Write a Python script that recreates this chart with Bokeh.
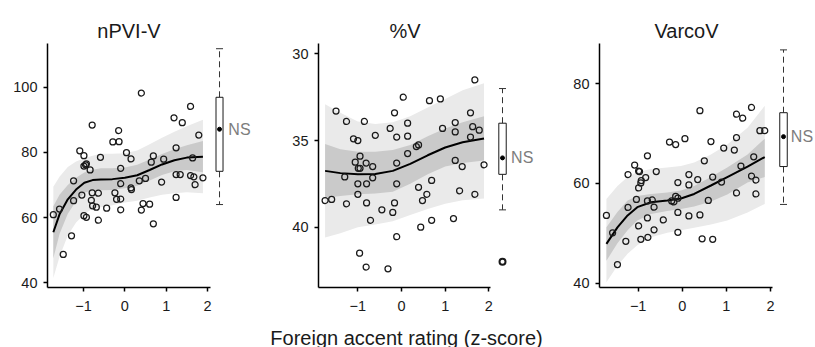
from bokeh.plotting import figure
from bokeh.layouts import row, column
from bokeh.models import Range1d, FixedTicker
from bokeh.core.properties import value
from bokeh.embed import file_html
from bokeh.resources import INLINE

FONT = "Liberation Sans"

# ---------------- data ----------------
titles = ["nPVI-V", "%V", "VarcoV"]
x_ticks = [-1, 0, 1, 2]
x_label = "Foreign accent rating (z-score)"

# nPVI-V
npvi_x = [-1.73, -1.58, -1.49, -1.29, -1.24, -1.24, -1.09, -1.04, -0.99, -0.99, -0.95, -0.93,
          -0.99, -0.93, -0.84, -0.79, -0.79, -0.81, -0.78, -0.69, -0.64, -0.64, -0.59, -0.44,
          -0.29, -0.24, -0.20, -0.15, -0.14, -0.10, -0.10, -0.10, -0.10, 0.04, 0.15, 0.15,
          0.16, 0.35, 0.40, 0.44, 0.40, 0.50, 0.60, 0.64, 0.69, 0.69, 0.89, 0.94, 1.19, 1.24,
          1.24, 1.24, 1.34, 1.39, 1.59, 1.59, 1.64, 1.67, 1.70, 1.79, 1.89]
npvi_y = [60.9, 62.6, 48.7, 54.4, 71.3, 65.2, 80.5, 66.9, 79.0, 75.8, 76.2, 76.5,
          60.6, 60.1, 74.6, 88.4, 67.6, 65.3, 63.6, 63.2, 67.5, 59.2, 78.5, 62.9,
          83.2, 67.6, 65.6, 86.7, 83.3, 75.1, 70.4, 65.7, 62.4, 79.9, 78.0, 69.1,
          68.6, 71.3, 98.2, 64.3, 62.3, 72.0, 64.1, 77.0, 78.9, 58.1, 70.9, 77.9, 90.6, 81.4,
          73.2, 66.2, 73.2, 89.1, 94.1, 72.9, 78.3, 72.5, 70.1, 85.3, 72.2]
npvi_fit_x = [-1.73, -1.58, -1.38, -1.18, -0.98, -0.78, -0.58, -0.30, 0.00, 0.30, 0.60, 0.90, 1.20, 1.50, 1.89]
npvi_fit_y = [55.5, 61.0, 65.6, 68.6, 70.7, 71.5, 71.7, 71.8, 72.2, 73.0, 74.6, 76.3, 77.6, 78.4, 78.7]
npvi_outer_hi = [69.5, 72.5, 75.5, 77.2, 78.2, 79.0, 79.6, 79.6, 79.7, 80.6, 82.5, 84.5, 86.3, 88.0, 90.0]
npvi_outer_lo = [41.5, 48.0, 54.5, 58.5, 61.0, 62.8, 63.2, 63.8, 64.6, 65.2, 66.2, 67.0, 67.5, 67.8, 67.5]
npvi_inner_hi = [63.5, 67.0, 70.0, 72.2, 73.8, 74.7, 75.1, 75.1, 75.4, 76.2, 77.8, 79.5, 81.0, 82.2, 83.5]
npvi_inner_lo = [47.5, 55.0, 61.2, 65.0, 67.6, 68.4, 68.4, 68.5, 69.0, 69.8, 71.4, 73.1, 74.2, 74.6, 73.9]
npvi_box = [64.0, 74.2, 87.1, 96.9, 111.8]   # low whisker, q1, median, q3, high whisker
npvi_out = []

# %V
pv_x = [-1.75, -1.60, -1.50, -1.30, -1.26, -1.26, -1.10, -1.00, -1.06, -0.99, -0.95, -0.95,
        -1.00, -1.00, -0.96, -0.85, -0.81, -0.80, -0.80, -0.81, -0.71, -0.66, -0.66, -0.60,
        -0.45, -0.31, -0.26, -0.20, -0.16, -0.16, -0.11, -0.11, -0.11, -0.11, 0.04, 0.14,
        0.14, 0.14, 0.34, 0.39, 0.39, 0.44, 0.48, 0.58, 0.64, 0.69, 0.69, 0.89, 0.94, 1.19,
        1.23, 1.23, 1.23, 1.33, 1.39, 1.58, 1.58, 1.63, 1.68, 1.68, 1.78, 1.89]
pv_y = [38.46, 38.4, 33.3, 37.1, 33.9, 38.65, 34.9, 35.0, 36.25, 36.6, 36.6, 35.9,
        37.5, 38.1, 41.5, 33.9, 36.3, 37.5, 38.6, 42.3, 39.6, 36.5, 37.15, 34.7,
        39.0, 42.4, 34.3, 39.15, 33.4, 38.6, 34.8, 36.3, 37.5, 40.55, 32.5, 34.0,
        34.75, 35.75, 35.35, 35.25, 37.7, 40.0, 38.46, 38.1, 32.7, 37.3, 39.6, 32.6, 34.3, 39.5,
        33.96, 34.5, 36.15, 37.9, 36.5, 33.4, 34.8, 34.2, 31.5, 38.1, 34.4, 36.4]
pv_fit_x = [-1.75, -1.40, -1.00, -0.60, -0.20, 0.20, 0.60, 1.00, 1.40, 1.89]
pv_fit_y = [36.75, 36.88, 36.95, 36.93, 36.75, 36.35, 35.85, 35.4, 35.1, 34.88]
pv_outer_hi = [32.9, 33.4, 33.9, 34.05, 33.95, 33.6, 33.1, 32.6, 32.1, 31.7]
pv_outer_lo = [40.6, 40.35, 40.0, 39.85, 39.65, 39.3, 38.95, 38.65, 38.45, 38.35]
pv_inner_hi = [35.2, 35.5, 35.65, 35.65, 35.55, 35.25, 34.75, 34.3, 33.95, 33.6]
pv_inner_lo = [38.3, 38.2, 38.1, 38.05, 37.95, 37.5, 36.95, 36.5, 36.3, 36.15]
pv_box = [32.0, 34.0, 36.0, 36.95, 39.0]
pv_out = [42.0]

# VarcoV
varco_x = [-1.72, -1.58, -1.47, -1.28, -1.23, -1.23, -1.08, -1.04, -0.99, -0.97, -0.99, -0.99,
           -0.94, -0.93, -0.94, -0.83, -0.79, -0.79, -0.79, -0.78, -0.68, -0.64, -0.64, -0.59,
           -0.43, -0.29, -0.24, -0.19, -0.15, -0.15, -0.10, -0.10, -0.10, -0.10, 0.06, 0.15,
           0.15, 0.15, 0.35, 0.40, 0.40, 0.45, 0.50, 0.59, 0.65, 0.69, 0.69, 0.89, 0.94, 1.18,
           1.23, 1.23, 1.23, 1.33, 1.37, 1.57, 1.57, 1.62, 1.67, 1.67, 1.76, 1.87]
varco_y = [53.6, 50.1, 43.75, 48.4, 55.2, 61.8, 63.7, 56.8, 62.5, 62.4, 59.1, 51.5,
           60.1, 60.6, 48.8, 61.2, 65.55, 56.5, 53.1, 49.2, 56.7, 55.25, 50.7, 62.4,
           52.7, 68.3, 56.5, 56.3, 67.8, 57.4, 57.05, 60.2, 54.2, 50.2, 69.0, 61.8,
           59.7, 53.5, 60.8, 74.6, 53.7, 48.9, 64.55, 56.6, 68.4, 61.3, 48.8, 60.3, 67.1, 66.7,
           73.9, 69.2, 58.1, 63.5, 73.1, 75.25, 61.5, 65.35, 60.7, 57.9, 70.6, 70.6]
varco_fit_x = [-1.72, -1.47, -1.24, -1.02, -0.71, -0.34, -0.03, 0.27, 0.65, 1.02, 1.48, 1.87]
varco_fit_y = [47.9, 51.2, 53.6, 55.25, 56.25, 56.6, 57.0, 57.9, 59.6, 61.3, 63.4, 65.3]
varco_outer_hi = [56.9, 59.5, 61.3, 62.3, 62.9, 63.2, 63.5, 64.2, 65.8, 67.8, 71.2, 75.6]
varco_outer_lo = [40.2, 43.5, 45.9, 47.6, 49.2, 50.1, 50.6, 51.1, 51.8, 52.6, 54.2, 55.9]
varco_inner_hi = [51.2, 54.3, 56.6, 57.5, 57.9, 58.2, 58.6, 59.5, 61.3, 63.2, 65.8, 69.0]
varco_inner_lo = [44.5, 48.0, 50.6, 52.6, 53.9, 54.5, 54.9, 55.4, 56.4, 57.8, 60.2, 61.3]
varco_box = [55.8, 63.4, 69.4, 74.2, 86.8]
varco_out = []

# ---------------- styling / layout ----------------
OUTER = "#eaeaea"
INNER = "#cacaca"
INK = "#1a1a1a"
NS_COLOR = "#7d7d7d"
PAGE_W = 815


def make_panel(px, py, fx, fy, ohi, olo, ihi, ilo, box, outl, y_ticks,
               width, left, right, xr, yr, x_axis_end, box_x, ns_x):
    p = figure(width=width, height=275, x_range=Range1d(*xr), y_range=Range1d(*yr),
               min_border_left=left, min_border_right=right, min_border_top=0,
               min_border_bottom=31, output_backend="svg", toolbar_location=None)
    p.grid.visible = False
    p.outline_line_color = None
    p.background_fill_color = "white"
    p.border_fill_color = "white"

    p.varea(x=fx, y1=olo, y2=ohi, fill_color=OUTER)
    p.varea(x=fx, y1=ilo, y2=ihi, fill_color=INNER)
    p.line(fx, fy, line_color="black", line_width=2)
    p.scatter(px, py, marker="circle", size=6, fill_color=None,
              line_color=INK, line_width=1.25)

    lo, q1, med, q3, hi = box
    p.segment(x0=[box_x, box_x], y0=[q3, q1], x1=[box_x, box_x], y1=[hi, lo],
              line_color="#333333", line_width=1, line_dash="6 4")
    p.scatter([box_x, box_x], [hi, lo], marker="dash", size=7,
              line_color="#333333", line_width=1)
    p.vbar(x=[box_x], width=0.17, bottom=[q1], top=[q3], fill_color="white",
           line_color=INK, line_width=1)
    p.scatter([box_x], [med], marker="circle", size=4, fill_color="black", line_color="black")
    if outl:
        p.scatter([box_x] * len(outl), outl, marker="circle", size=6, fill_color=None,
                  line_color=INK, line_width=2)
    p.text([ns_x], [med], text=["NS"], text_font=value(FONT), text_font_size="16px",
           text_baseline="middle", text_align="left", text_color=NS_COLOR)

    for ax in (p.xaxis[0], p.yaxis[0]):
        ax.axis_line_color = "black"
        ax.axis_line_width = 1.5
        ax.major_tick_line_color = "black"
        ax.major_tick_line_width = 1.5
        ax.major_tick_out = 4
        ax.major_tick_in = 0
        ax.minor_tick_line_color = None
        ax.major_label_text_font = FONT
        ax.major_label_text_font_size = "14.5px"
        ax.major_label_text_color = INK
    p.xaxis.ticker = FixedTicker(ticks=x_ticks)
    p.yaxis.ticker = FixedTicker(ticks=y_ticks)
    p.xaxis.bounds = (xr[0], x_axis_end)
    p.xaxis.major_label_standoff = 9
    p.yaxis.major_label_standoff = 6
    return p


p1 = make_panel(npvi_x, npvi_y, npvi_fit_x, npvi_fit_y, npvi_outer_hi, npvi_outer_lo,
                npvi_inner_hi, npvi_inner_lo, npvi_box, npvi_out, [40, 60, 80, 100],
                width=270, left=47, right=8, xr=(-1.871, 3.331), yr=(38.56, 113.4),
                x_axis_end=2.073, box_x=2.291, ns_x=2.505)
p2 = make_panel(pv_x, pv_y, pv_fit_x, pv_fit_y, pv_outer_hi, pv_outer_lo,
                pv_inner_hi, pv_inner_lo, pv_box, pv_out, [30, 35, 40],
                width=280, left=48, right=10, xr=(-1.901, 3.183), yr=(43.48, 29.40),
                x_axis_end=2.038, box_x=2.313, ns_x=2.51)
p3 = make_panel(varco_x, varco_y, varco_fit_x, varco_fit_y, varco_outer_hi, varco_outer_lo,
                varco_inner_hi, varco_inner_lo, varco_box, varco_out, [40, 60, 80],
                width=265, left=49, right=0, xr=(-1.877, 3.021), yr=(39.14, 88.08),
                x_axis_end=2.04, box_x=2.2955, ns_x=2.462)


def text_strip(height, xs, ys, texts, size):
    f = figure(width=PAGE_W, height=height, x_range=Range1d(0, PAGE_W), y_range=Range1d(0, height),
               min_border=0, min_border_left=0, min_border_right=0, min_border_top=0,
               min_border_bottom=0, output_backend="svg", toolbar_location=None)
    f.axis.visible = False
    f.grid.visible = False
    f.outline_line_color = None
    f.text(xs, ys, text=texts, text_font=value(FONT), text_font_size=size,
           text_align="center", text_baseline="alphabetic", text_color=INK)
    return f


header = text_strip(43, [128.5, 404.5, 686.0], [13, 13, 13], titles, "20px")
footer = text_strip(29, [406.0], [10.0], [x_label], "20px")

layout = column(header, row(p1, p2, p3), footer)

with open("out.html", "w") as fh:
    fh.write(file_html(layout, INLINE))
